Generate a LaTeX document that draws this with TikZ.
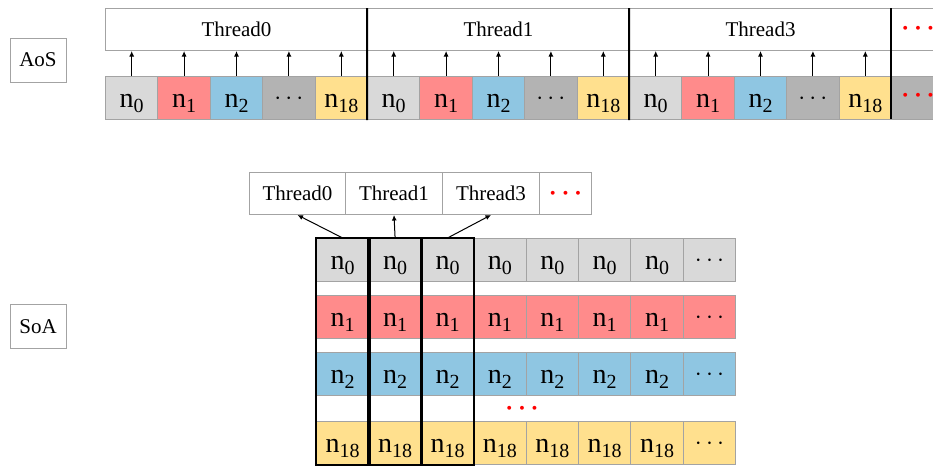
\documentclass[tikz,border=0pt]{standalone}
\usepackage{fontspec}
\setmainfont{Liberation Serif}
\usetikzlibrary{arrows.meta}
\definecolor{cgray}{HTML}{D9D9D9}
\definecolor{cred}{HTML}{FF8B8B}
\definecolor{cblue}{HTML}{8FC6E2}
\definecolor{cyellow}{HTML}{FFE08E}
\definecolor{cdark}{HTML}{B3B3B3}
\definecolor{bord}{HTML}{A3A3A3}
\newcommand{\nsb}[1]{{\fontsize{28}{28}\selectfont n}{\fontsize{20}{20}\selectfont\raisebox{-5pt}{#1}}}
\newcommand{\blkdots}{{\fontsize{27}{27}\selectfont$\cdots$}}
\newcommand{\reddots}{{\fontsize{27}{27}\selectfont\color{red}\boldmath$\cdots$}}
\begin{document}
\begin{tikzpicture}[x=1pt,y=-1pt,
  cellbox/.style={draw=bord, line width=1pt, inner sep=0pt, minimum width=52.4pt,
    minimum height=43pt, text height=31pt, text depth=12pt, anchor=north west},
  dotbox/.style={cellbox, text height=28pt, text depth=15pt},
  threadbox/.style={draw=bord, line width=1pt, inner sep=0pt, minimum height=42pt,
    anchor=north west, font=\fontsize{21}{21}\selectfont},
  labelbox/.style={draw=bord, line width=1pt, inner sep=0pt, minimum width=56pt,
    minimum height=44pt, font=\fontsize{21}{21}\selectfont},
  partbox/.style={draw=bord, line width=1pt},
  arr/.style={line width=1pt, -{Latex[length=5.5pt,width=5pt]}},
  sepline/.style={line width=2pt, black},
  colbox/.style={line width=2.2pt, black}]
\clip (0,0) rectangle (933,466);
\fill[white] (0,0) rectangle (933,466);
% ---------- AoS ----------
\node[labelbox] (aos) at (38,60) {AoS};
\foreach \g/\t in {0/0,1/1,2/3} {
  \node[threadbox, minimum width=262pt] (tA\g) at ({105+\g*262},8) {Thread\t};
  \foreach \i/\col/\lab in {0/cgray/{\nsb{0}},1/cred/{\nsb{1}},2/cblue/{\nsb{2}},4/cyellow/{\nsb{18}}} {
    \node[cellbox, fill=\col] (a\g\i) at ({105+(\g*5+\i)*52.4},76) {\lab};
  }
  \node[dotbox, fill=cdark] (a\g3) at ({105+(\g*5+3)*52.4},76) {\blkdots};
}
% partial boxes running off the right edge
\coordinate (pt) at (891,8);
\coordinate (pb) at (891,119);
\draw[partbox] (pt) -- (945,8) (891,50) -- (945,50);
\filldraw[partbox, fill=cdark] (891,76) rectangle (945,119);
\node (rdA) at (918,29) {\reddots};
\node (rdB) at (918,96) {\reddots};
\foreach \g in {0,1,2} {
  \foreach \i in {0,...,4} {
    \draw[arr] (a\g\i.north) -- (a\g\i.north |- tA\g.south);
  }
}
\foreach \g in {1,2} {
  \draw[sepline] (tA\g.north west) -- (a\g0.south west);
}
\draw[sepline] (pt) -- (pb);
% ---------- SoA ----------
\node[labelbox] (soa) at (38,326.5) {SoA};
\node[threadbox, minimum width=96pt] (t0) at (249,172) {Thread0};
\node[threadbox, minimum width=97pt] (t1) at (345,172) {Thread1};
\node[threadbox, minimum width=97pt] (t3) at (442,172) {Thread3};
\node[threadbox, minimum width=52pt] (td) at (539,172) {\reddots};
\foreach \r/\top/\col/\sub in {0/238/cgray/0,1/295/cred/1,2/352/cblue/2,3/421/cyellow/18} {
  \foreach \c in {0,...,6} {
    \node[cellbox, fill=\col] (s\r\c) at ({316+\c*52.4},\top) {\nsb{\sub}};
  }
  \node[dotbox, fill=\col] (s\r7) at ({316+7*52.4},\top) {\blkdots};
}
\node (vd) at (522,409) {\reddots};
\foreach \c in {0,1,2} {
  \draw[colbox] (s0\c.north west) rectangle (s3\c.south east);
}
\draw[arr] (s00.north) -- (t0.south);
\draw[arr] (s01.north) -- (t1.south);
\draw[arr] (s02.north) -- (t3.south);
\end{tikzpicture}
\end{document}
